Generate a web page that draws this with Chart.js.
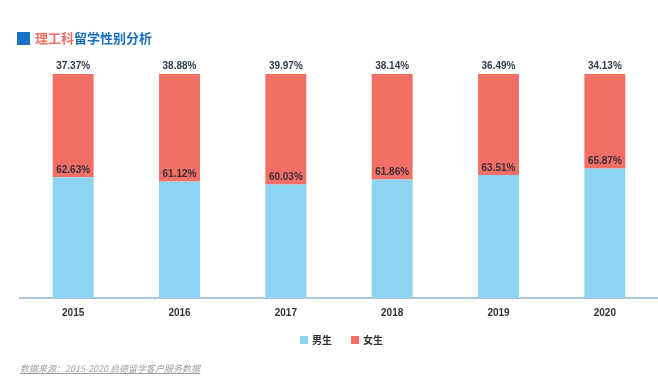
<!DOCTYPE html>
<html>
<head>
<meta charset="utf-8">
<script src="https://cdn.jsdelivr.net/npm/chart.js@4"></script>
<style>
  html, body { margin: 0; padding: 0; background: #fff; }
  #wrap { position: relative; width: 658px; height: 384px; overflow: hidden; }
  #title { position: absolute; left: 17px; top: 30px; font: bold 13px "Noto Sans CJK SC", sans-serif; line-height: 16px; display: flex; align-items: center; }
  #title .sq { width: 13px; height: 13px; background: #1a70c1; margin-right: 5px; }
  #title .red { color: #f26f66; }
  #title .blue { color: #1a70c1; }
  #legend { position: absolute; left: 300px; top: 333px; font: bold 10px "Noto Sans CJK SC", sans-serif; color: #333; line-height: 14px; display: flex; align-items: center; }
  #legend .box { width: 8px; height: 8px; margin-right: 4px; }
  #legend .item { display: flex; align-items: center; margin-right: 19px; }
  #source { position: absolute; left: 20px; top: 362px; font: italic 9px "Noto Sans CJK SC", sans-serif; color: #a0a0a0; text-decoration: underline; }
  #stockChart { position: absolute; left: 0; top: 0; }
</style>
</head>
<body>
<div id="wrap">
  <canvas id="stockChart" width="658" height="384"></canvas>
  <div id="title"><span class="sq"></span><span class="red">理工科</span><span class="blue">留学性别分析</span></div>
  <div id="legend"></div>
  <div id="source">数据来源：2015-2020 启德留学客户服务数据</div>
</div>
<script>
const years = ["2015", "2016", "2017", "2018", "2019", "2020"];
const male = [62.63, 61.12, 60.03, 61.86, 63.51, 65.87];
const female = [37.37, 38.88, 39.97, 38.14, 36.49, 34.13];
const seriesNames = ["男生", "女生"];
const seriesColors = ["#8dd4f2", "#f26f66"];

// draws the percent labels: female above bar, male just above the split
const labelPlugin = {
  id: 'pctLabels',
  afterDatasetsDraw(chart) {
    const c = chart.ctx;
    c.save();
    c.font = 'bold 10px "Liberation Sans", Arial, sans-serif';
    c.textAlign = 'center';
    c.textBaseline = 'bottom';
    const mBars = chart.getDatasetMeta(0).data;
    const fBars = chart.getDatasetMeta(1).data;
    mBars.forEach((bar, i) => {
      c.fillStyle = '#3a2f3a';
      c.fillText(male[i].toFixed(2) + '%', bar.x, bar.y - 2);
      c.fillStyle = '#2e3d52';
      c.fillText(female[i].toFixed(2) + '%', fBars[i].x, fBars[i].y - 3);
    });
    c.restore();
  }
};

const ctx = document.getElementById('stockChart').getContext('2d');
const chart = new Chart(ctx, {
  type: 'bar',
  data: {
    labels: years,
    datasets: [
      { label: seriesNames[0], data: male, backgroundColor: seriesColors[0], barPercentage: 0.385, categoryPercentage: 1 },
      { label: seriesNames[1], data: female, backgroundColor: seriesColors[1], barPercentage: 0.385, categoryPercentage: 1 }
    ]
  },
  options: {
    responsive: false,
    animation: false,
    layout: { padding: { left: 20, right: 0, top: 74, bottom: 56 } },
    plugins: {
      tooltip: { enabled: false },
      legend: { display: false }
    },
    scales: {
      x: {
        stacked: true,
        grid: { display: false, drawTicks: false },
        border: { color: '#aac6de', width: 2 },
        ticks: { color: '#333', padding: 9, font: { size: 10, weight: 'bold', family: '"Liberation Sans", Arial, sans-serif' } }
      },
      y: { stacked: true, min: 19, max: 100, display: false }
    }
  },
  plugins: [labelPlugin]
});

// simple html legend
const legend = document.getElementById('legend');
chart.data.datasets.forEach(ds => {
  const item = document.createElement('div');
  item.className = 'item';
  item.innerHTML = `<span class="box" style="background:${ds.backgroundColor}"></span>${ds.label}`;
  legend.appendChild(item);
});
</script>
</body>
</html>
